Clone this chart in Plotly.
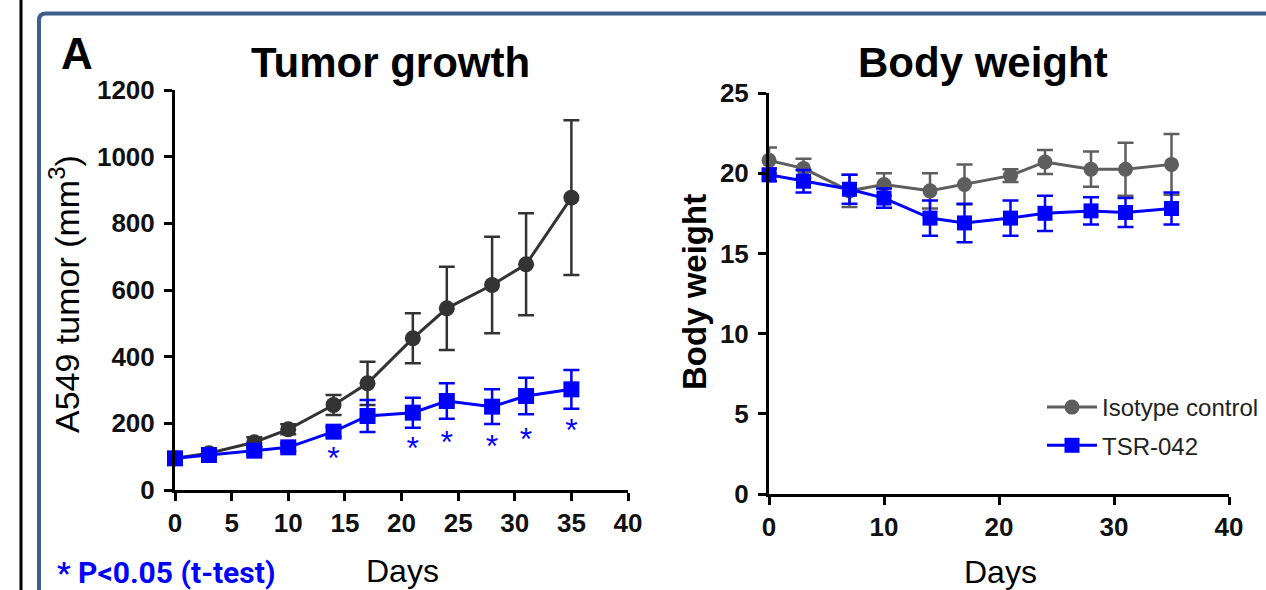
import plotly.graph_objects as go

W, H = 1266, 590

days = [0, 3, 7, 10, 14, 17, 21, 24, 28, 31, 35]

tumor_iso = [95, 110, 143, 182, 255, 320, 455, 545, 615, 677, 877]
tumor_iso_err = [10, 12, 15, 15, 30, 65, 75, 125, 145, 153, 232]
tumor_tsr = [95, 105, 118, 128, 175, 222, 232, 267, 250, 282, 302]
tumor_tsr_err = [8, 10, 10, 12, 15, 48, 45, 53, 52, 55, 58]

sig_days = [14, 21, 24, 28, 31, 35]
sig_y = [88, 118, 134, 122, 144, 172]

bw_iso = [20.8, 20.3, 18.9, 19.3, 18.9, 19.3, 19.85, 20.7, 20.25, 20.25, 20.55]
bw_iso_err = [0.8, 0.6, 1.0, 0.7, 1.1, 1.25, 0.4, 0.75, 1.1, 1.65, 1.9]
bw_tsr = [19.9, 19.5, 19.0, 18.45, 17.2, 16.9, 17.2, 17.5, 17.65, 17.55, 17.8]
bw_tsr_err = [0.4, 0.7, 0.9, 0.6, 1.1, 1.2, 1.1, 1.1, 0.85, 0.9, 1.0]

x_ticks_left = [0, 5, 10, 15, 20, 25, 30, 35, 40]
y_ticks_left = [0, 200, 400, 600, 800, 1000, 1200]
x_ticks_right = [0, 10, 20, 30, 40]
y_ticks_right = [0, 5, 10, 15, 20, 25]

DARK = "#333333"
GRAY = "#5e5e5e"
BLUE = "#0000ff"
FONT = "Liberation Sans, Arial, sans-serif"
FRAME = "#3f5e8c"

fig = go.Figure()

def series(x, y, err, color, symbol, name, xa, ya, show, size):
    fig.add_trace(go.Scatter(
        x=x, y=y, mode="lines+markers", name=name, legendgroup=name,
        line=dict(color=color, width=3),
        marker=dict(color=color, symbol=symbol, size=size),
        error_y=dict(type="data", array=err, color=color, thickness=2.5, width=8),
        xaxis=xa, yaxis=ya, showlegend=show, cliponaxis=False,
    ))

series(days, tumor_iso, tumor_iso_err, DARK, "circle", "Isotype control", "x", "y", False, 16)
series(days, tumor_tsr, tumor_tsr_err, BLUE, "square", "TSR-042", "x", "y", False, 16)
series(days, bw_iso, bw_iso_err, GRAY, "circle", "Isotype control", "x2", "y2", True, 15)
series(days, bw_tsr, bw_tsr_err, BLUE, "square", "TSR-042", "x2", "y2", True, 15)

fig.add_trace(go.Scatter(
    x=sig_days, y=sig_y, mode="text", text=["*"] * len(sig_days),
    textfont=dict(color=BLUE, size=32, family=FONT), textposition="middle center",
    xaxis="x", yaxis="y", showlegend=False, cliponaxis=False, hoverinfo="skip",
))

axis_common = dict(
    showline=True, linecolor="black", linewidth=3, ticks="outside",
    ticklen=8, tickwidth=3, tickcolor="black", showgrid=False, zeroline=False,
    tickfont=dict(family=FONT, size=26, color="#111111", weight="bold"),
)

fig.update_layout(
    width=W, height=H, autosize=False,
    margin=dict(l=0, r=0, t=0, b=0, autoexpand=False),
    paper_bgcolor="white", plot_bgcolor="white",
    xaxis=dict(domain=[175 / W, 628 / W], range=[0, 40], tickvals=x_ticks_left,
               anchor="y", ticklabelstandoff=0, **axis_common),
    yaxis=dict(domain=[1 - 490 / H, 1 - 90 / H], range=[0, 1200], tickvals=y_ticks_left,
               anchor="x", ticklabelstandoff=4, **axis_common),
    xaxis2=dict(domain=[769 / W, 1229 / W], range=[0, 40], tickvals=x_ticks_right,
                anchor="y2", ticklabelstandoff=0, **axis_common),
    yaxis2=dict(domain=[1 - 494 / H, 1 - 93 / H], range=[0, 25], tickvals=y_ticks_right,
                anchor="x2", ticklabelstandoff=4, **axis_common),
    legend=dict(x=1042 / W, y=1 - 385 / H, xanchor="left", yanchor="top",
                font=dict(family=FONT, size=24, color="#222222"),
                bgcolor="rgba(0,0,0,0)", tracegroupgap=4, traceorder="grouped",
                itemwidth=50),
    showlegend=True,
)

def ann(text, x, y, size, bold=False, color="black", angle=0, family=FONT, xanchor="center"):
    fig.add_annotation(
        text=f"<b>{text}</b>" if bold else text, x=x / W, y=1 - y / H,
        xref="paper", yref="paper", showarrow=False, textangle=angle,
        font=dict(family=family, size=size, color=color),
        xanchor=xanchor, yanchor="middle",
    )

ann("A", 77, 53, 44, bold=True)
ann("Tumor growth", 390, 63, 42, bold=True)
ann("Body weight", 983, 63, 42, bold=True)
ann("A549 tumor (mm<sup>3</sup>)", 64, 294, 34, angle=-90)
ann("Body weight", 694, 292, 33, bold=True, angle=-90)
ann("Days", 403, 571, 32)
ann("Days", 1000, 572, 32)
ann("* P<0.05 (t-test)", 55, 572, 30, bold=True, color=BLUE,
    family="Roboto, Liberation Sans, sans-serif", xanchor="left")

# frame decorations
fig.add_shape(type="line", xref="paper", yref="paper", x0=21 / W, x1=21 / W, y0=0, y1=1,
              line=dict(color="black", width=3))
r = 7
fx, fy = 39, 13.5
path = (f"M {fx / W},{-5 / H} L {fx / W},{1 - (fy + r) / H} "
        f"Q {fx / W},{1 - fy / H} {(fx + r) / W},{1 - fy / H} L {1 + 5 / W},{1 - fy / H}")
fig.add_shape(type="path", xref="paper", yref="paper", path=path,
              line=dict(color=FRAME, width=4))

fig.write_html("out.html", config={"displayModeBar": False},
               post_script="document.body.style.margin='0px';")
